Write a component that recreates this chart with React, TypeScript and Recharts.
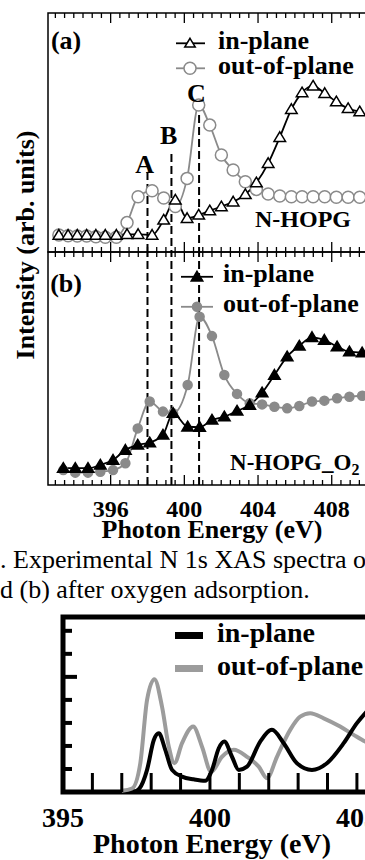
import React from 'react'
import {
  LineChart,
  Line,
  XAxis,
  YAxis,
  ReferenceLine,
  ReferenceDot,
  ReferenceArea,
  Legend,
} from 'recharts'

const SERIF = '"Liberation Serif", "Times New Roman", Times, serif'
const GRAY = '#8a8a8a'
const SIM_GRAY = '#9c9c9c'

// (a) N-HOPG, measured N 1s XAS
const energyA = [
  393.19, 393.69, 394.19, 394.7, 395.2, 395.71, 396.31, 396.89, 397.49, 398.25,
  398.88, 399.51, 400.15, 400.78, 401.38, 402.01, 402.65, 403.31, 403.91, 404.55,
  405.18, 405.81, 406.39, 406.99, 407.62, 408.25, 408.89, 409.52,
]
const inPlaneA = [
  7.1, 7.1, 7.1, 7.1, 7.1, 7.1, 7.1, 7.4, 7.4, 7.1, 13.4, 21.8, 14.1, 15.5, 17.3,
  19.0, 21.0, 24.1, 29.0, 37.1, 48.0, 59.7, 66.7, 69.5, 66.4, 62.9, 60.1, 58.7,
]
const outOfPlaneA = [
  7.1, 6.8, 6.7, 6.7, 6.4, 6.2, 6.2, 12.3, 23.1, 25.6, 22.6, 19.0, 30.8, 61.5, 53.1,
  40.6, 34.3, 29.4, 26.2, 24.3, 23.4, 23.1, 23.1, 23.1, 23.1, 22.9, 22.9, 22.9,
]

// (b) N-HOPG_O2, after oxygen adsorption
const energyB = [
  393.43, 394.08, 394.77, 395.44, 396.13, 396.8, 397.47, 398.12, 398.84, 399.39,
  400.18, 400.83, 401.5, 402.17, 402.86, 403.55, 404.22, 404.89, 405.58, 406.24,
  406.93, 407.6, 408.29, 408.96, 409.65,
]
const inPlaneB = [
  7.2, 7.2, 7.2, 8.6, 10.7, 15.0, 17.2, 18.2, 21.5, 30.8, 25.0, 24.8, 27.9, 29.3,
  31.8, 34.3, 39.6, 47.2, 55.1, 59.7, 63.4, 62.2, 59.4, 57.2, 56.8,
]
const outOfPlaneB = [
  6.4, 5.3, 5.3, 5.7, 6.4, 9.3, 24.3, 35.8, 31.5, 30.8, 42.9, 72.2, 63.9, 47.2,
  39.1, 35.1, 34.6, 33.6, 32.9, 33.9, 35.8, 36.2, 37.2, 37.9, 38.3,
]

// peak markers (eV)
const peakNames = ['A', 'B', 'C']
const peakEnergies = [398.0, 399.3, 400.8]

// lower figure, calculated spectra
const simInEnergy = [
  397.4, 397.6, 397.86, 398.09, 398.26, 398.48, 398.71, 399.05, 399.45, 399.84,
  400.07, 400.3, 400.49, 400.75, 400.98, 401.26, 401.71, 402.11, 402.51, 402.96,
  403.47, 403.98, 404.55, 405.0, 405.28, 405.6,
]
const simInPlane = [
  0.0, 0.15, 0.96, 2.26, 2.55, 1.83, 0.96, 0.67, 0.55, 0.49, 0.96, 1.9, 2.19, 1.53,
  0.96, 1.1, 2.19, 2.7, 2.12, 1.25, 0.96, 1.25, 2.12, 2.99, 3.42, 3.8,
]
const simOutEnergy = [
  397.0, 397.35, 397.63, 397.86, 398.11, 398.37, 398.6, 398.79, 399.05, 399.43,
  399.73, 400.04, 400.41, 400.81, 401.26, 401.66, 401.94, 402.28, 402.73, 403.07,
  403.41, 403.87, 404.43, 404.89, 405.28, 405.6,
]
const simOutOfPlane = [
  0.05, 0.15, 1.25, 4.0, 4.9, 3.7, 1.97, 1.25, 2.12, 2.84, 1.97, 0.88, 1.53, 1.83,
  1.53, 1.1, 0.6, 1.53, 2.7, 3.27, 3.42, 3.2, 2.84, 2.48, 2.19, 2.0,
]

const xasMajor = [396, 400, 404, 408]
const simLabels = [395, 400, 405]
const simYTicks = [1, 2, 3, 4, 5, 6, 7]

const X_DOMAIN: [number, number] = [392.6, 411]
const SIM_DOMAIN: [number, number] = [395, 406.5]

const xasTicks: number[] = []
for (let t = 393; t <= 410.5; t += 0.5) xasTicks.push(t)
const simXTicks: number[] = []
for (let t = 395; t <= 406; t += 1) simXTicks.push(t)

const rowsA = energyA.map((e, i) => ({ e, inPlane: inPlaneA[i], outPlane: outOfPlaneA[i] }))
const rowsB = energyB.map((e, i) => ({ e, inPlane: inPlaneB[i], outPlane: outOfPlaneB[i] }))
const simInRows = simInEnergy.map((e, i) => ({ e, v: simInPlane[i] }))
const simOutRows = simOutEnergy.map((e, i) => ({ e, v: simOutOfPlane[i] }))

type Marker = 'tri' | 'circle' | 'bar'

const triPath = (cx: number, cy: number, s: number) =>
  `M${cx},${cy - s}L${cx + s * 1.05},${cy + s * 0.75}L${cx - s * 1.05},${cy + s * 0.75}Z`

function markerShape(kind: Marker, cx: number, cy: number, color: string, filled: boolean, size: number) {
  if (kind === 'tri')
    return <path d={triPath(cx, cy, size)} fill={filled ? color : '#fff'} stroke={color} strokeWidth={1.5} />
  return <circle cx={cx} cy={cy} r={size} fill={filled ? color : '#fff'} stroke={color} strokeWidth={1.5} />
}

function makeDot(kind: Marker, color: string, filled: boolean, size: number) {
  return (p: any) => {
    if (p.cx == null || p.cy == null) return <g key={p.index} />
    return <g key={p.index}>{markerShape(kind, p.cx, p.cy, color, filled, size)}</g>
  }
}

interface LegendEntry {
  label: string
  color: string
  marker: Marker
  filled?: boolean
  size?: number
}

function LegendRows({
  entries,
  rowHeight,
  fontSize,
  iconWidth,
  lineEnd,
  markerX,
}: {
  entries: LegendEntry[]
  rowHeight: number
  fontSize: number
  iconWidth: number
  lineEnd: number
  markerX: number
}) {
  // vertical centre of the glyphs inside a row
  const mid = (rowHeight - 1.107 * fontSize) / 2 + 0.891 * fontSize - 0.23 * fontSize
  return (
    <div style={{ fontFamily: SERIF, fontWeight: 'bold', fontSize, whiteSpace: 'nowrap', color: '#000' }}>
      {entries.map((e) => (
        <div key={e.label} style={{ display: 'flex', height: rowHeight }}>
          <svg width={iconWidth} height={rowHeight} style={{ flex: 'none' }}>
            {e.marker === 'bar' ? (
              <line x1={0} x2={lineEnd} y1={mid} y2={mid} stroke={e.color} strokeWidth={7} />
            ) : (
              <>
                <line x1={1} x2={lineEnd} y1={mid} y2={mid} stroke={e.color} strokeWidth={1.8} />
                {markerShape(e.marker, markerX, mid, e.color, !!e.filled, e.size ?? 5)}
              </>
            )}
          </svg>
          <span style={{ lineHeight: `${rowHeight}px` }}>{e.label}</span>
        </div>
      ))}
    </div>
  )
}

function edgeTick(dir: number, labelled: boolean) {
  return (props: any) => {
    const { x, y, payload } = props
    const major = xasMajor.includes(payload.value)
    return (
      <g>
        <line x1={x} x2={x} y1={y} y2={y + dir * (major ? 10 : 5)} stroke="#000" strokeWidth={1.3} />
        {labelled && major && (
          <text x={x} y={y + 32} textAnchor="middle" fontFamily={SERIF} fontWeight="bold" fontSize={24} fill="#000">
            {payload.value}
          </text>
        )}
      </g>
    )
  }
}

function simBottomTick(props: any) {
  const { x, y, payload } = props
  const v = payload.value
  return (
    <g>
      {v > SIM_DOMAIN[0] && <line x1={x} x2={x} y1={y} y2={y - 19} stroke="#000" strokeWidth={3} />}
      {simLabels.includes(v) && (
        <text x={x} y={y + 35} textAnchor="middle" fontFamily={SERIF} fontWeight="bold" fontSize={28} fill="#000">
          {v}
        </text>
      )}
    </g>
  )
}

function simLeftTick(props: any) {
  const { x, y, payload } = props
  const len = payload.value === 5 ? 14 : 9
  return <line x1={x} x2={x + len} y1={y} y2={y} stroke="#000" strokeWidth={4} />
}

function axisTitle(cx: number, dy: number, size: number) {
  return (props: any) => {
    const vb = props.viewBox
    return (
      <text x={vb.x + cx} y={vb.y + dy} textAnchor="middle" fontFamily={SERIF} fontWeight="bold" fontSize={size} fill="#000">
        Photon Energy (eV)
      </text>
    )
  }
}

const textLabel = (value: string, size = 26) => ({
  value,
  position: 'center' as const,
  fontFamily: SERIF,
  fontWeight: 'bold',
  fontSize: size,
  fill: '#000',
})

export default function App() {
  const labelY = [37.0, 49.2, 66.7]
  const dashTop = [33.5, 41.0, 62.3]

  return (
    <div
      style={{
        position: 'absolute',
        left: 0,
        top: 0,
        width: 365,
        height: 860,
        overflow: 'hidden',
        background: '#fff',
        fontFamily: SERIF,
      }}
    >
      {/* panel (a) */}
      <div style={{ position: 'absolute', left: 0, top: 0 }}>
        <LineChart width={400} height={262} data={rowsA} margin={{ top: 12, right: 13, bottom: 9, left: 48 }}>
          <XAxis dataKey="e" type="number" domain={X_DOMAIN} ticks={xasTicks} interval={0} height={1}
            axisLine={false} tickLine={false} tickSize={0} tickMargin={0} tick={edgeTick(-1, false)} />
          <XAxis xAxisId="top" orientation="top" dataKey="e" type="number" domain={X_DOMAIN} ticks={xasTicks}
            interval={0} height={1} axisLine={false} tickLine={false} tickSize={0} tickMargin={0} tick={edgeTick(1, false)} />
          <YAxis hide domain={[0, 100]} />
          <ReferenceArea x1={X_DOMAIN[0]} x2={X_DOMAIN[1]} y1={0} y2={100} fill="none" stroke="#000" strokeWidth={1.5} />
          {peakEnergies.map((pe, i) => (
            <ReferenceLine key={peakNames[i]} segment={[{ x: pe, y: dashTop[i] }, { x: pe, y: 0 }]}
              stroke="#000" strokeWidth={2} strokeDasharray="8 4" />
          ))}
          {peakEnergies.map((pe, i) => (
            <ReferenceDot key={'l' + peakNames[i]} x={pe - 0.15} y={labelY[i]} r={0} fill="none" stroke="none"
              label={textLabel(peakNames[i])} />
          ))}
          <ReferenceDot x={393.58} y={88.7} r={0} fill="none" stroke="none" label={textLabel('(a)')} />
          <ReferenceDot x={406.44} y={14.2} r={0} fill="none" stroke="none" label={textLabel('N-HOPG', 24)} />
          <Line dataKey="outPlane" name="out-of-plane" type="monotone" stroke={GRAY} strokeWidth={1.8}
            dot={makeDot('circle', GRAY, false, 6)} activeDot={false} isAnimationActive={false} />
          <Line dataKey="inPlane" name="in-plane" type="monotone" stroke="#000" strokeWidth={1.8}
            dot={makeDot('tri', '#000', false, 5.5)} activeDot={false} isAnimationActive={false} />
          <Legend layout="vertical" verticalAlign="middle" align="center"
            wrapperStyle={{ left: 175, top: 28, width: 260 }}
            content={() => (
              <LegendRows rowHeight={25} fontSize={26} iconWidth={43} lineEnd={30} markerX={15}
                entries={[
                  { label: 'in-plane', color: '#000', marker: 'tri', size: 5 },
                  { label: 'out-of-plane', color: GRAY, marker: 'circle', size: 6 },
                ]} />
            )} />
        </LineChart>
      </div>

      {/* panel (b) */}
      <div style={{ position: 'absolute', left: 0, top: 240 }}>
        <LineChart width={400} height={310} data={rowsB} margin={{ top: 11, right: 13, bottom: 64, left: 48 }}>
          <XAxis dataKey="e" type="number" domain={X_DOMAIN} ticks={xasTicks} interval={0} height={1}
            axisLine={false} tickLine={false} tickSize={0} tickMargin={0} tick={edgeTick(-1, true)}
            label={{ value: 'Photon Energy (eV)', content: axisTitle(164, 53, 26) }} />
          <XAxis xAxisId="top" orientation="top" dataKey="e" type="number" domain={X_DOMAIN} ticks={xasTicks}
            interval={0} height={1} axisLine={false} tickLine={false} tickSize={0} tickMargin={0} tick={edgeTick(1, false)} />
          <YAxis hide domain={[0, 100]} />
          <ReferenceArea x1={X_DOMAIN[0]} x2={X_DOMAIN[1]} y1={0} y2={100} fill="none" stroke="#000" strokeWidth={1.5} />
          {peakEnergies.map((pe, i) => (
            <ReferenceLine key={peakNames[i]} x={pe} stroke="#000" strokeWidth={2} strokeDasharray="8 4" />
          ))}
          <ReferenceDot x={393.58} y={86.7} r={0} fill="none" stroke="none" label={textLabel('(b)')} />
          <ReferenceDot x={402.48} y={6.4} r={0} fill="none" stroke="none"
            label={{
              content: (p: any) => (
                <text x={p.viewBox.x} y={p.viewBox.y} fontFamily={SERIF} fontWeight="bold" fontSize={23} fill="#000">
                  N-HOPG_O<tspan dy={5} fontSize={16}>2</tspan>
                </text>
              ),
            }} />
          <Line dataKey="outPlane" name="out-of-plane" type="monotone" stroke={GRAY} strokeWidth={1.8}
            dot={makeDot('circle', GRAY, true, 4.5)} activeDot={false} isAnimationActive={false} />
          <Line dataKey="inPlane" name="in-plane" type="monotone" stroke="#000" strokeWidth={1.8}
            dot={makeDot('tri', '#000', true, 5.5)} activeDot={false} isAnimationActive={false} />
          <Legend layout="vertical" verticalAlign="middle" align="center"
            wrapperStyle={{ left: 180, top: 19, width: 260 }}
            content={() => (
              <LegendRows rowHeight={30} fontSize={26} iconWidth={43} lineEnd={33} markerX={17}
                entries={[
                  { label: 'in-plane', color: '#000', marker: 'tri', filled: true, size: 5.5 },
                  { label: 'out-of-plane', color: GRAY, marker: 'circle', filled: true, size: 4.5 },
                ]} />
            )} />
        </LineChart>
      </div>

      {/* axis title shared by (a) and (b) */}
      <svg width={60} height={500} style={{ position: 'absolute', left: 0, top: 0 }}>
        <text transform="translate(34,245) rotate(-90)" textAnchor="middle" fontFamily={SERIF}
          fontWeight="bold" fontSize={26} fill="#000">
          Intensity (arb. units)
        </text>
      </svg>

      {/* caption */}
      <div style={{ position: 'absolute', left: 0, top: 545, fontSize: 26, lineHeight: '30px',
        whiteSpace: 'pre', color: '#000', fontFamily: SERIF }}>
        {'. Experimental N 1s XAS spectra of\nd (b) after oxygen adsorption.'}
      </div>

      {/* lower figure */}
      <div style={{ position: 'absolute', left: 0, top: 600 }}>
        <LineChart width={420} height={262} margin={{ top: 17, right: 19, bottom: 69, left: 62 }}>
          <XAxis dataKey="e" type="number" domain={SIM_DOMAIN} ticks={simXTicks} interval={0} height={1}
            axisLine={false} tickLine={false} tickSize={0} tickMargin={0} tick={simBottomTick}
            label={{ value: 'Photon Energy (eV)', content: axisTitle(149, 61, 28) }} />
          <YAxis type="number" domain={[0, 7.6]} ticks={simYTicks} interval={0} width={1}
            axisLine={false} tickLine={false} tickSize={0} tickMargin={0} tick={simLeftTick} />
          <Line data={simOutRows} dataKey="v" name="out-of-plane" type="monotone" stroke={SIM_GRAY} strokeWidth={4}
            dot={false} activeDot={false} isAnimationActive={false} />
          <Line data={simInRows} dataKey="v" name="in-plane" type="monotone" stroke="#000" strokeWidth={4}
            dot={false} activeDot={false} isAnimationActive={false} />
          <ReferenceArea x1={SIM_DOMAIN[0]} x2={SIM_DOMAIN[1]} y1={0} y2={7.6} fill="none" stroke="#000" strokeWidth={5} />
          <Legend layout="vertical" verticalAlign="middle" align="center"
            wrapperStyle={{ left: 175, top: 16, width: 260 }}
            content={() => (
              <LegendRows rowHeight={33} fontSize={28} iconWidth={42} lineEnd={28} markerX={14}
                entries={[
                  { label: 'in-plane', color: '#000', marker: 'bar' },
                  { label: 'out-of-plane', color: SIM_GRAY, marker: 'bar' },
                ]} />
            )} />
        </LineChart>
      </div>
    </div>
  )
}
